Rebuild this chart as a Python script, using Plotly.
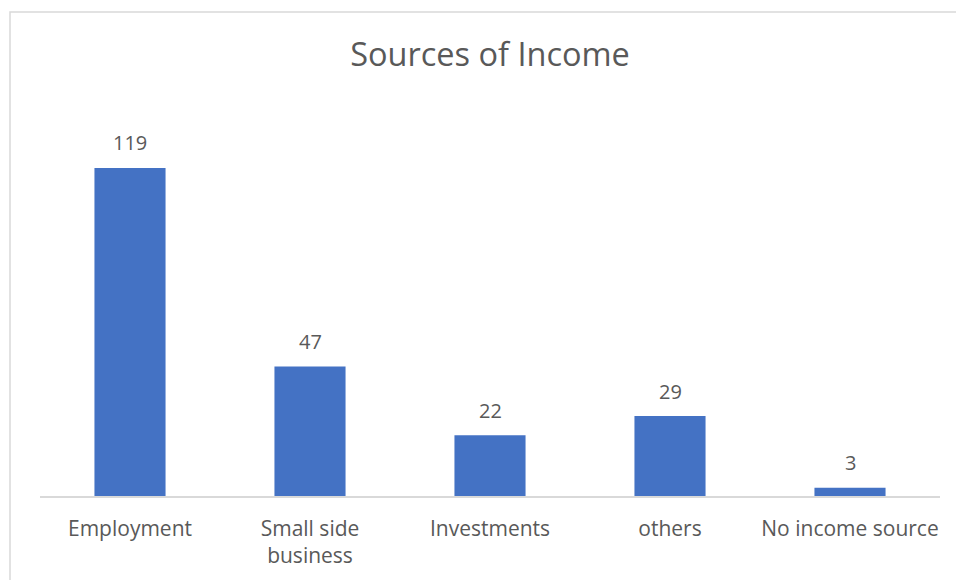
import plotly.graph_objects as go

# Survey results: number of respondents per income source
categories = ["Employment", "Small side<br>business", "Investments", "others", "No income source"]
counts = [119, 47, 22, 29, 3]

BAR_COLOR = "#4472C4"
TEXT_COLOR = "#595959"
LINE_COLOR = "#D9D9D9"
FONT = "Open Sans, Noto Sans, sans-serif"

fig = go.Figure(
    go.Bar(
        x=categories,
        y=counts,
        marker=dict(color=BAR_COLOR, line=dict(width=0)),
        hoverinfo="x+y",
    )
)

# Value labels floating above each bar
for cat, val in zip(categories, counts):
    fig.add_annotation(
        x=cat, y=val, text=str(val), showarrow=False,
        yshift=25, yanchor="middle",
        font=dict(family=FONT, size=20, color=TEXT_COLOR),
    )

# Chart-area border (light gray frame)
fig.add_shape(
    type="rect", xref="paper", yref="paper",
    x0=-30 / 900, x1=1.05, y0=-0.3, y1=(496 - 12) / 386,
    line=dict(color=LINE_COLOR, width=1.5), fillcolor="rgba(0,0,0,0)",
    layer="below",
)

fig.update_layout(
    width=956, height=580,
    margin=dict(l=40, r=16, t=110, b=84),
    paper_bgcolor="white", plot_bgcolor="white",
    bargap=0.605,
    showlegend=False,
    font=dict(family=FONT, color=TEXT_COLOR),
    title=dict(
        text="Sources of Income",
        x=0.5, xref="paper", xanchor="center",
        y=1 - 55 / 580, yref="container", yanchor="middle",
        font=dict(family=FONT, size=32.5, color=TEXT_COLOR),
    ),
    xaxis=dict(
        showline=True, linecolor=LINE_COLOR, linewidth=1.5,
        showgrid=False, zeroline=False, ticks="",
        ticklabelstandoff=13,
        tickfont=dict(family=FONT, size=21, color=TEXT_COLOR),
        fixedrange=True,
    ),
    yaxis=dict(
        range=[0, 140], visible=False, showgrid=False, zeroline=False,
        fixedrange=True,
    ),
)

fig.write_html("out.html")
